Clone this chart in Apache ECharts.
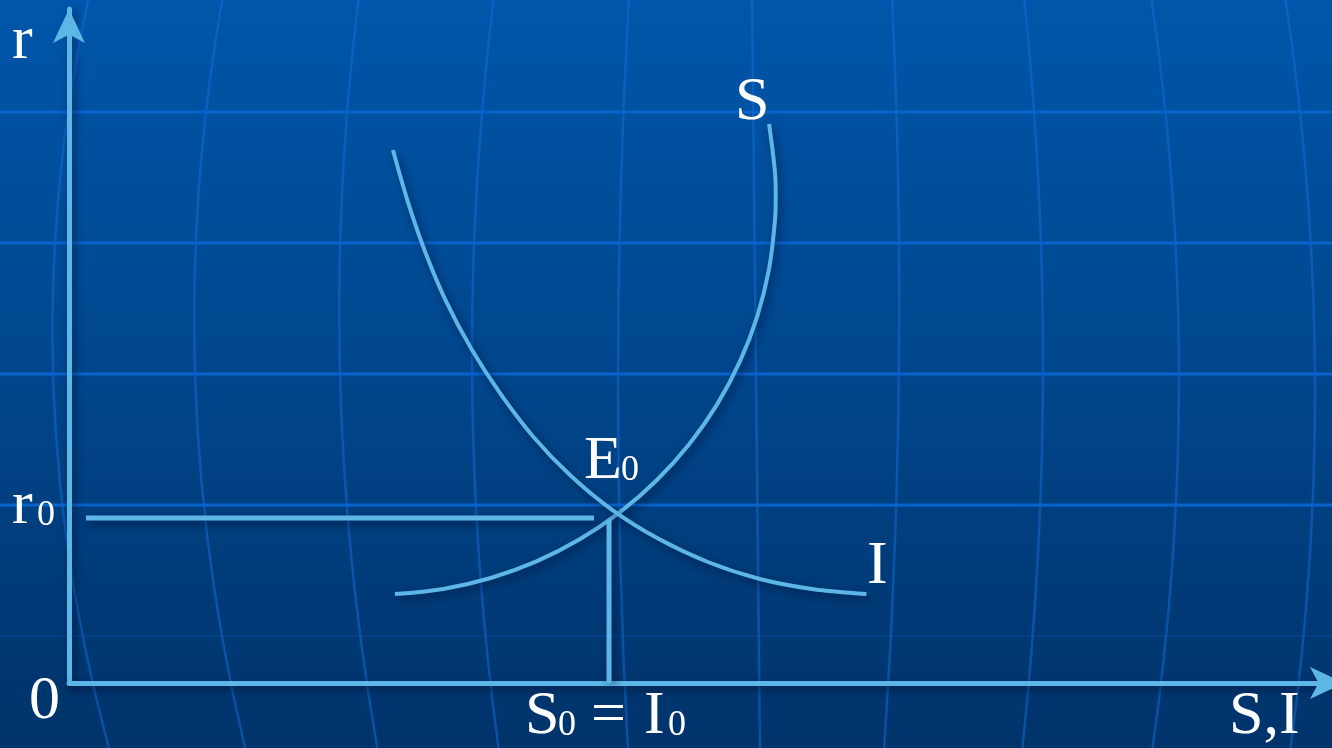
<!DOCTYPE html>
<html>
<head>
<meta charset="utf-8">
<title>S-I</title>
<script src="https://cdn.jsdelivr.net/npm/echarts@6.0.0/dist/echarts.min.js"></script>
<style>
html, body { margin: 0; padding: 0; overflow: hidden; }
#chart { width: 1332px; height: 748px; }
</style>
</head>
<body>
<div id="chart"></div>
<script>
// 储蓄曲线 S / 投资曲线 I，均衡点 E0 (S0 = I0, r0)
const savingCurve = [
  [25.87, 13.55], [29.71, 14.32], [33.47, 15.98], [37.10, 18.51], [40.53, 21.87],
  [43.73, 26.01], [46.64, 30.87], [49.22, 36.36], [51.44, 42.42], [53.25, 48.95],
  [54.63, 55.86], [55.56, 63.04], [56.03, 70.38], [56.09, 74.12], [56.03, 77.78],
  [55.56, 85.11]
];
const investCurve = [
  [25.71, 81.13], [26.89, 73.29], [28.28, 65.57], [29.94, 58.05], [31.94, 50.85],
  [34.25, 44.00], [36.83, 37.52], [39.76, 31.66], [43.02, 26.48], [46.75, 21.99],
  [50.71, 18.42], [54.84, 15.83], [58.97, 14.31], [63.29, 13.55]
];
const r0Line = [[1.35, 25.11], [41.67, 25.11]];
const s0Line = [[42.86, 0], [42.86, 24.81]];

const W = 1332, H = 748;
const lineBlue = '#5cb6e6';
const serif = "'Liberation Serif', 'Times New Roman', serif";
const shadow = { shadowColor: 'rgba(0, 10, 40, 0.55)', shadowBlur: 8, shadowOffsetX: 3, shadowOffsetY: 4 };

// 背景装饰：横线 + 经线 (上端x, 中部x, 下端x)
const bgRows = [112, 243, 374, 505];
const bgMeridians = [
  [89, 53, 110], [223, 195, 246], [359, 340, 378], [494, 472, 499], [629, 618, 628],
  [752, 756, 760], [892, 899, 884], [1024, 1043, 1022], [1151, 1179, 1152], [1285, 1315, 1290]
];

const bg = [{
  type: 'rect', z: -200, silent: true,
  shape: { x: 0, y: 0, width: W, height: H },
  style: {
    fill: new echarts.graphic.LinearGradient(0, 0, 0, 1, [
      { offset: 0, color: '#0056aa' },
      { offset: 0.5, color: '#00468c' },
      { offset: 1, color: '#00336a' }
    ])
  }
}];
bgMeridians.forEach(([t, m, b]) => {
  bg.push({
    type: 'bezierCurve', z: -150, silent: true,
    shape: { x1: t, y1: -4, x2: b, y2: H + 4, cpx1: 2 * m - 0.5 * (t + b), cpy1: 374 },
    style: { stroke: 'rgba(20, 110, 220, 0.5)', lineWidth: 2.5, fill: null }
  });
});
bgRows.forEach((y) => {
  bg.push({
    type: 'line', z: -100, silent: true,
    shape: { x1: 0, y1: y, x2: W, y2: y },
    style: { stroke: '#0a63cc', lineWidth: 3 }
  });
});
bg.push({
  type: 'line', z: -100, silent: true,
  shape: { x1: 0, y1: 636, x2: W, y2: 636 },
  style: { stroke: 'rgba(10, 80, 170, 0.35)', lineWidth: 2 }
});

// 文字 (x 左边, 基线 y)
const txt = (x, base, s, size) => ({
  type: 'text', z: 100, silent: true, x: x, y: base - size * 0.3375,
  style: { text: s, fill: '#fff', font: size + 'px ' + serif, align: 'left', verticalAlign: 'middle' }
});
const big = 62, sub = 36;
const labels = [
  txt(12, 63, 'r', big),
  txt(12, 528, 'r', big), txt(37, 528, '0', sub),
  txt(29, 723, '0', big),
  txt(735, 124, 'S', big),
  txt(584, 483, 'E', big), txt(621, 483, '0', sub),
  txt(867, 588, 'I', big),
  txt(525, 738, 'S', big), txt(558, 738, '0', sub),
  txt(591, 738, '=', big),
  txt(644, 738, 'I', big), txt(668, 738, '0', sub),
  txt(1229, 738, 'S,I', big)
];

// 箭头尖端在轴的终点；x 轴箭头略微伸出画布
const axisLine = (offset) => ({
  show: true, symbol: ['none', 'arrow'], symbolSize: [24, 34], symbolOffset: [0, offset],
  lineStyle: Object.assign({ color: lineBlue, width: 5 }, shadow)
});
const hidden = { axisTick: { show: false }, axisLabel: { show: false }, splitLine: { show: false } };

const curve = (data, width, smooth) => ({
  type: 'line', data: data, smooth: smooth, symbol: 'none', z: 5,
  lineStyle: Object.assign({ color: lineBlue, width: width }, shadow)
});

const chart = echarts.init(document.getElementById('chart'));
chart.setOption({
  animation: false,
  grid: { left: 69, right: 0, top: 9, bottom: 65 },
  xAxis: Object.assign({ type: 'value', min: 0, max: 100.24, axisLine: axisLine(12) }, hidden),
  yAxis: Object.assign({ type: 'value', min: 0, max: 102.6, axisLine: axisLine(0) }, hidden),
  graphic: bg.concat(labels),
  series: [
    curve(savingCurve, 4, 0.35),
    curve(investCurve, 4, 0.35),
    curve(r0Line, 5, false),
    curve(s0Line, 5, false)
  ]
});
</script>
</body>
</html>
